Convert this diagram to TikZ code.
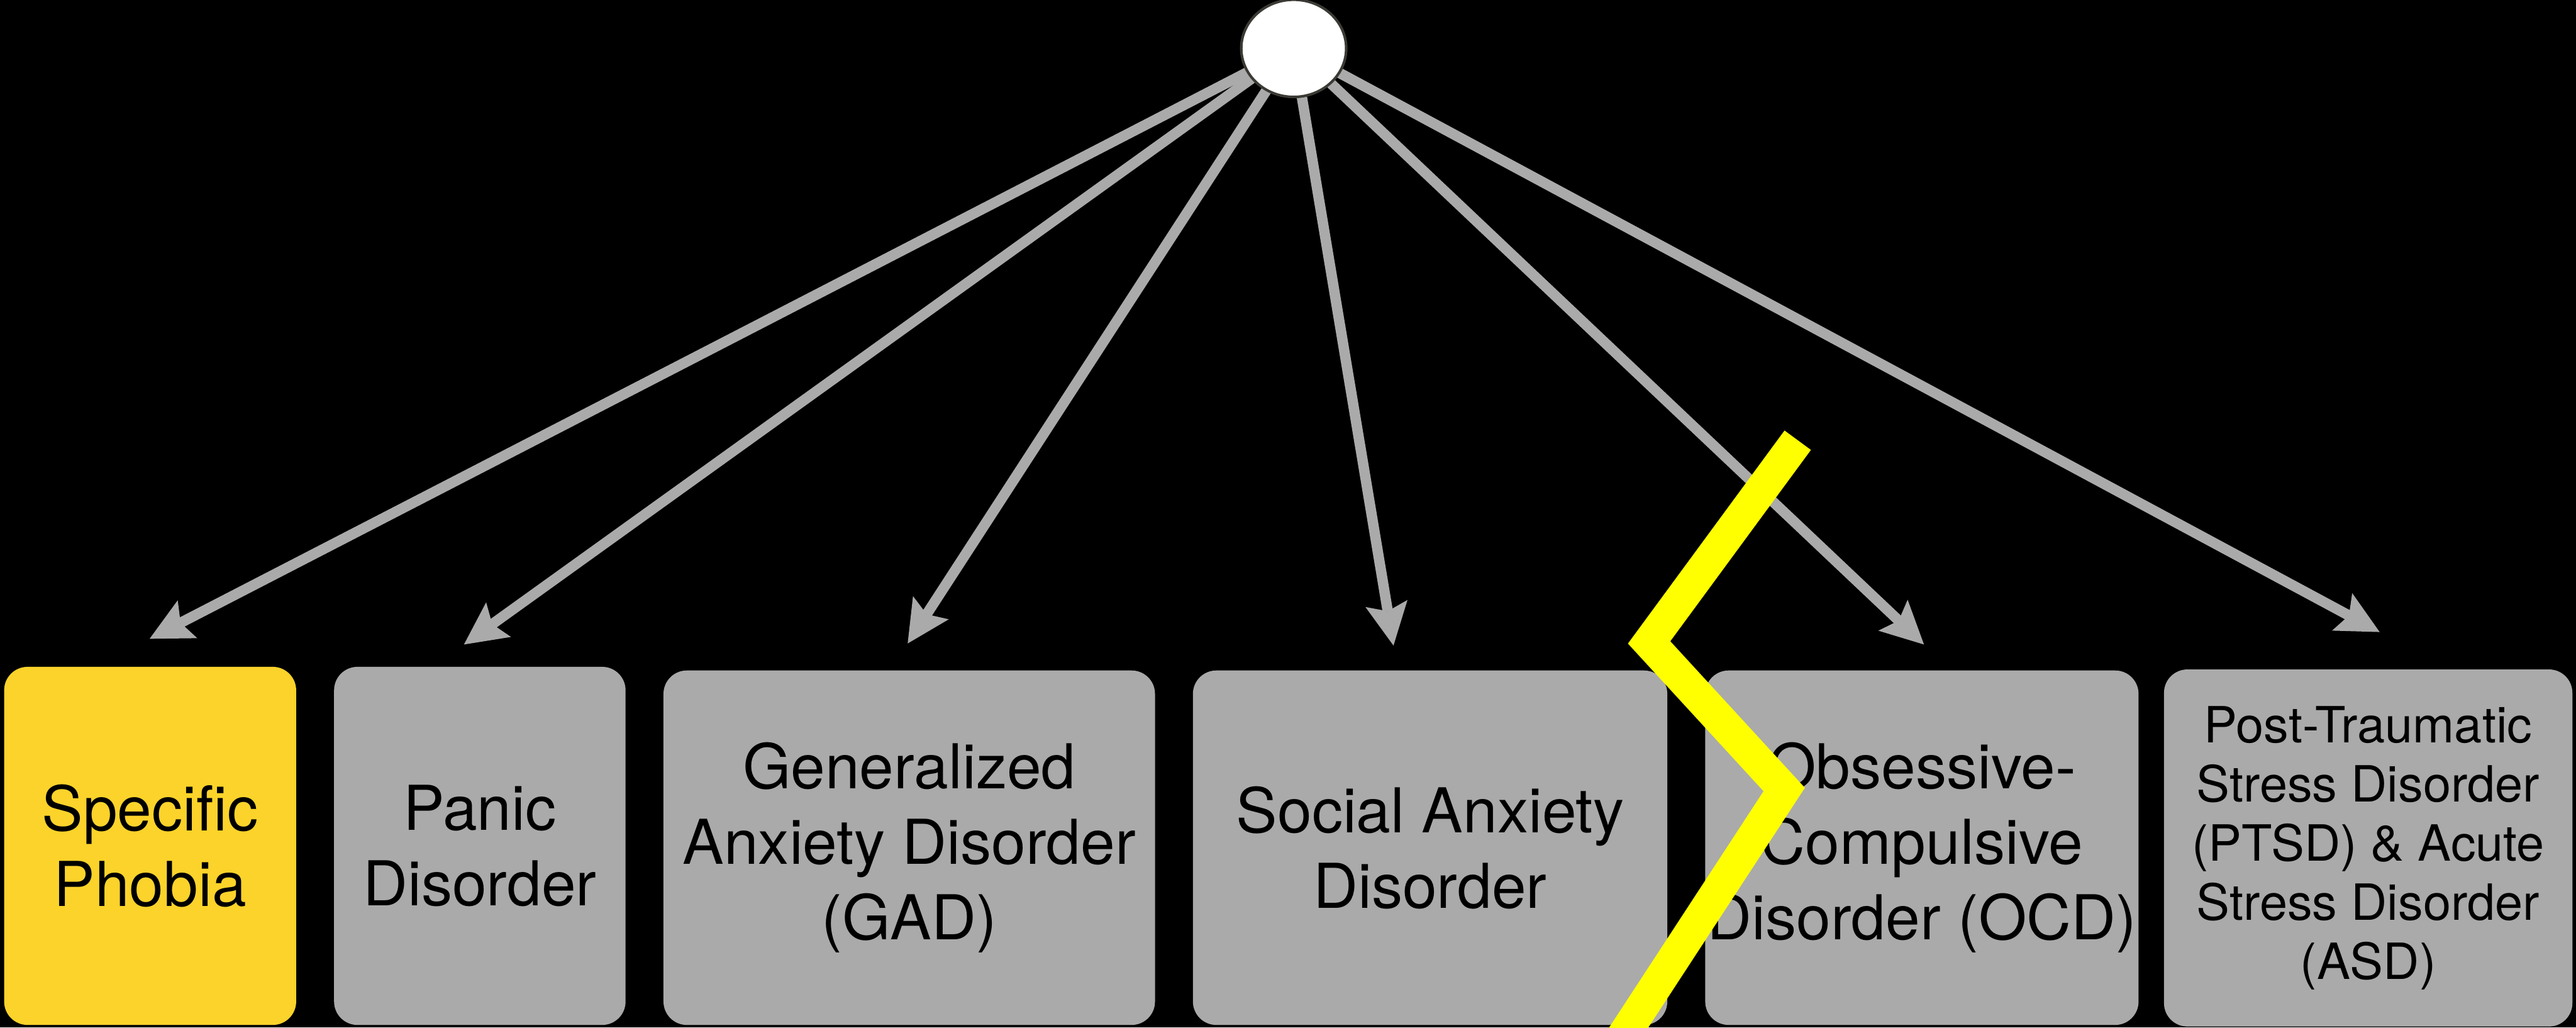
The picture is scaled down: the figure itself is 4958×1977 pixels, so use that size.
\documentclass[tikz,border=0pt]{standalone}
\usepackage{fontspec}
\setmainfont{TeX Gyre Heros}
\usetikzlibrary{arrows.meta,shapes.geometric}
\definecolor{boxgray}{HTML}{AAAAAA}
\definecolor{phobia}{HTML}{FCD32A}
\definecolor{ring}{HTML}{3B3A35}
\definecolor{zig}{HTML}{FFFF00}
\pgfdeclarelayer{bg}
\pgfdeclarelayer{edges}
\pgfsetlayers{bg,edges,main}
\begin{document}
\begin{tikzpicture}[x=1pt,y=-1pt,
  box/.style={rectangle, rounded corners=45pt, fill=boxgray, inner sep=0pt,
    align=center, text=black, font=\fontsize{119}{145}\selectfont},
  smalltext/.style={font=\fontsize{96}{114}\selectfont},
  arr/.style={draw=boxgray, line width=20pt,
    -{Stealth[length=82pt,width=82pt,inset=15pt,line width=0pt]}},
  hub/.style={ellipse, draw=ring, line width=5pt, fill=white, inner sep=0pt,
    minimum width=202pt, minimum height=187pt},
  zigline/.style={draw=zig, line width=63pt, miter limit=10}
]
\useasboundingbox (0,0) rectangle (4958,1977);
\begin{pgfonlayer}{bg}
  \fill[black] (0,0) rectangle (4958,1977);
\end{pgfonlayer}

\node[hub] (top) at (2490,93) {};

\node[box, fill=phobia, minimum width=562pt, minimum height=689pt] (b1) at (289,1627.5) {Specific\\Phobia};
\node[box, minimum width=561pt, minimum height=689pt] (b2) at (923.5,1627.5) {Panic\\Disorder};
\node[box, minimum width=946pt, minimum height=682pt] (b3) at (1750,1631) {Generalized\\Anxiety Disorder\\(GAD)};
\node[box, minimum width=913pt, minimum height=682pt] (b4) at (2752.5,1631) {Social Anxiety\\Disorder};
\node[box, minimum width=834pt, minimum height=682pt] (b5) at (3699,1631) {Obsessive-\\Compulsive\\Disorder (OCD)};
\node[box, smalltext, minimum width=786pt, minimum height=687pt] (b6) at (4558,1631.5) {Post-Traumatic\\Stress Disorder\\(PTSD) \& Acute\\Stress Disorder\\(ASD)};

\coordinate (t1) at (288,1229);
\coordinate (t2) at (893,1240);
\coordinate (t3) at (1747,1238);
\coordinate (t4) at (2682,1242);
\coordinate (t5) at (3703,1240);
\coordinate (t6) at (4580,1216);

\begin{pgfonlayer}{edges}
  \foreach \i in {1,...,6} {\draw[arr] (top.center) -- (t\i);}
\end{pgfonlayer}

\coordinate (z0) at (3460,847);
\coordinate (z1) at (3174,1236);
\coordinate (z2) at (3434,1519);
\coordinate (z3) at (3087,2050);
\begin{scope}
  \clip (0,0) rectangle (4958,1977);
  \draw[zigline] (z0) -- (z1) -- (z2) -- (z3);
\end{scope}
\end{tikzpicture}
\end{document}
